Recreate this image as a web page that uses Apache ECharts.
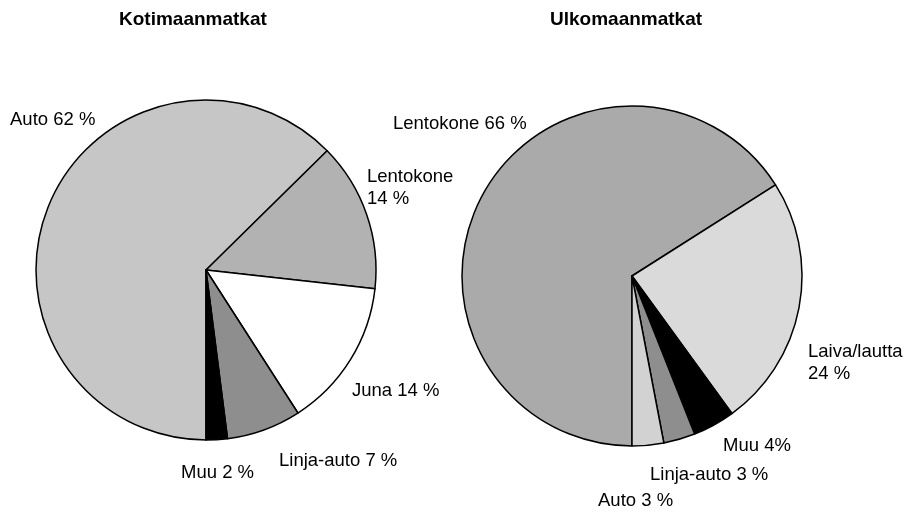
<!DOCTYPE html>
<html>
<head>
<meta charset="utf-8">
<script src="https://cdn.jsdelivr.net/npm/echarts@6/dist/echarts.min.js"></script>
<style>
html,body{margin:0;padding:0;background:#fff;}
#chart{width:911px;height:513px;}
</style>
</head>
<body>
<div id="chart"></div>
<script>
// Kotimaanmatkat (domestic trips)
const domesticNames  = ['Auto', 'Lentokone', 'Juna', 'Linja-auto', 'Muu'];
const domesticValues = [62, 14, 14, 7, 2];
const domesticLabels = ['Auto 62 %', 'Lentokone\n14 %', 'Juna 14 %', 'Linja-auto 7 %', 'Muu 2 %'];

// Ulkomaanmatkat (foreign trips)
const foreignNames  = ['Lentokone', 'Laiva/lautta', 'Muu', 'Linja-auto', 'Auto'];
const foreignValues = [66, 24, 4, 3, 3];
const foreignLabels = ['Lentokone 66 %', 'Laiva/lautta\n24 %', 'Muu 4%', 'Linja-auto 3 %', 'Auto 3 %'];

const titles = ['Kotimaanmatkat', 'Ulkomaanmatkat'];

// styling
const domesticColors = ['#c6c6c6', '#b2b2b2', '#ffffff', '#8e8e8e', '#000000'];
const foreignColors  = ['#aaaaaa', '#dadada', '#000000', '#8e8e8e', '#d2d2d2'];
const labelPos = [
  [[10,120],[367,188],[352,391],[279,461],[181,473]],
  [[393,124],[808,363],[723,446],[650,475],[598,501]]
];

const FONT = "'Liberation Sans', Arial, Helvetica, sans-serif";

function makeSeries(idx, names, values, labels, colors, center) {
  return {
    type: 'pie',
    center: center,
    radius: 170,
    startAngle: -90,
    clockwise: true,
    animation: false,
    silent: true,
    avoidLabelOverlap: false,
    data: names.map((n, i) => ({
      name: n,
      value: values[i],
      itemStyle: { color: colors[i] },
      label: { formatter: labels[i] }
    })),
    itemStyle: { borderColor: '#000', borderWidth: 1.5 },
    label: {
      show: true,
      position: 'outside',
      color: '#000',
      fontSize: 18.5,
      lineHeight: 22,
      fontFamily: FONT,
      overflow: 'none'
    },
    labelLine: { show: false },
    labelLayout: function (params) {
      const p = labelPos[idx][params.dataIndex];
      return { x: p[0], y: p[1], align: 'left', verticalAlign: 'middle', hideOverlap: false };
    }
  };
}

const chart = echarts.init(document.getElementById('chart'), null, { renderer: 'canvas' });
chart.setOption({
  backgroundColor: '#fff',
  animation: false,
  title: [
    { text: titles[0], left: 119, top: 10, padding: 0,
      textStyle: { fontSize: 19, fontWeight: 'bold', color: '#000', fontFamily: FONT } },
    { text: titles[1], left: 550, top: 10, padding: 0,
      textStyle: { fontSize: 19, fontWeight: 'bold', color: '#000', fontFamily: FONT } }
  ],
  series: [
    makeSeries(0, domesticNames, domesticValues, domesticLabels, domesticColors, [206, 270]),
    makeSeries(1, foreignNames, foreignValues, foreignLabels, foreignColors, [632, 276])
  ]
});
</script>
</body>
</html>
